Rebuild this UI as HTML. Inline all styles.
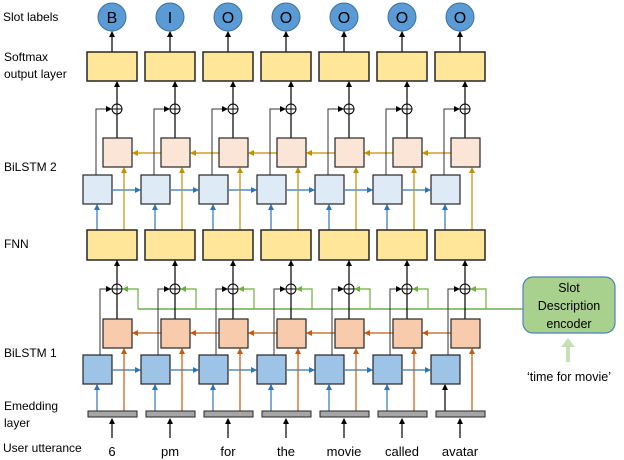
<!DOCTYPE html>
<html><head><meta charset="utf-8"><style>
html,body{margin:0;padding:0;background:#fff;}
svg{display:block;font-family:"Liberation Sans",sans-serif;}
</style></head><body>
<svg id="s" width="624" height="460" viewBox="0 0 624 460" xmlns="http://www.w3.org/2000/svg">
<defs>
<marker id="ak" markerWidth="6" markerHeight="6" refX="5" refY="3" orient="auto" markerUnits="userSpaceOnUse"><path d="M0,0L6,3L0,6z" fill="#000"/></marker>
<marker id="ab" markerWidth="6" markerHeight="6" refX="5" refY="3" orient="auto" markerUnits="userSpaceOnUse"><path d="M0,0L6,3L0,6z" fill="#2e75b6"/></marker>
<marker id="ag" markerWidth="6" markerHeight="6" refX="5" refY="3" orient="auto" markerUnits="userSpaceOnUse"><path d="M0,0L6,3L0,6z" fill="#bf9000"/></marker>
<marker id="ao" markerWidth="6" markerHeight="6" refX="5" refY="3" orient="auto" markerUnits="userSpaceOnUse"><path d="M0,0L6,3L0,6z" fill="#c55a11"/></marker>
<marker id="an" markerWidth="6" markerHeight="6" refX="5" refY="3" orient="auto" markerUnits="userSpaceOnUse"><path d="M0,0L6,3L0,6z" fill="#70ad47"/></marker>
</defs>
<g id="g"></g>
<g font-size="12" fill="#000">
<text x="3" y="21">Slot labels</text>
<text x="4" y="61">Softmax</text>
<text x="4" y="78">output layer</text>
<text x="4" y="171">BiLSTM 2</text>
<text x="4" y="248">FNN</text>
<text x="4" y="357">BiLSTM 1</text>
<text x="4" y="410">Emedding</text>
<text x="4" y="427">layer</text>
<text x="3" y="452">User utterance</text>
</g>
<g font-size="16" text-anchor="middle" fill="#000">
<text x="112" y="23">B</text><text x="170" y="23">I</text><text x="228" y="23">O</text><text x="286" y="23">O</text><text x="344" y="23">O</text><text x="402" y="23">O</text><text x="460" y="23">O</text>
</g>
<g font-size="13" text-anchor="middle" fill="#000">
<text x="112" y="456">6</text><text x="170" y="456">pm</text><text x="228" y="456">for</text><text x="286" y="456">the</text><text x="344" y="456">movie</text><text x="402" y="456">called</text><text x="460" y="456">avatar</text>
</g>
<rect x="523" y="277" width="92" height="56" rx="10" fill="#a9d18e" stroke="#4f81bd" stroke-width="1.2"/>
<g font-size="12.5" text-anchor="middle" fill="#000">
<text x="569" y="292">Slot</text><text x="569" y="310">Description</text><text x="569" y="328">encoder</text>
<text x="569" y="381">‘time for movie’</text>
</g>
<path d="M568,362V346" stroke="#c5e0b4" stroke-width="4"/>
<path d="M561,347L568,338L575,347z" fill="#c5e0b4"/>
</svg>
<script>
var g=document.getElementById('g'),NS='http://www.w3.org/2000/svg';
function el(t,a){var e=document.createElementNS(NS,t);for(var k in a)e.setAttribute(k,a[k]);g.appendChild(e);return e;}
function ln(d,c,m,w){el('path',{d:d,stroke:c,'stroke-width':w||1.2,fill:'none','marker-end':m?'url(#'+m+')':''});}
function plus(cx,cy){el('circle',{cx:cx,cy:cy,r:5,fill:'#fff',stroke:'#000','stroke-width':1});ln('M'+(cx-5)+','+cy+'H'+(cx+5),'#000',null,1);ln('M'+cx+','+(cy-5)+'V'+(cy+5),'#000',null,1);}
ln('M523,309H138','#70ad47',null,1.5);
for(var i=0;i<7;i++){
 var L=87+58*i,c=L+30;
 // top circle
 el('circle',{cx:L+25,cy:17,r:14,fill:'#5b9bd5',stroke:'#41719c','stroke-width':1});
 ln('M'+(L+25)+',52V32','#000','ak');
 el('rect',{x:L,y:52,width:50,height:29,fill:'#ffe699',stroke:'#262626','stroke-width':1.5});
 ln('M'+c+',104V82','#000','ak');
 ln('M'+c+',138V114','#000');
 ln('M'+(L+9)+',175V109H'+(c-6),'#333','ak',1);
 if(i<6){ln('M'+(L+74)+',153H'+(L+46),'#bf9000','ag');ln('M'+(L+26)+',190H'+(L+53),'#2e75b6','ab');}
 ln('M'+(L+10)+',230V205','#2e75b6','ab');
 ln('M'+(L+37)+',230V168','#bf9000','ag');
 el('rect',{x:L+16,y:138,width:29,height:29,fill:'#fbe5d6',stroke:'#262626','stroke-width':1.2});
 el('rect',{x:L-4,y:175,width:29,height:29,fill:'#deebf7',stroke:'#262626','stroke-width':1.2});
 plus(c,109);
 el('rect',{x:L,y:230,width:50,height:30,fill:'#ffe699',stroke:'#262626','stroke-width':1.5});
 ln('M'+c+',284V261','#000','ak');
 ln('M'+c+',319V294','#000');
 ln('M'+(L+13)+',355V289H'+(c-6),'#333','ak',1);
 ln('M'+(L+51)+',309V289H'+(c+6),'#70ad47','an');
 if(i<6){ln('M'+(L+74)+',333H'+(L+46),'#c55a11','ao');ln('M'+(L+26)+',370H'+(L+53),'#2e75b6','ab');}
 ln('M'+(L+10)+',411V385',i==6?'#000':'#2e75b6',i==6?'ak':'ab');
 ln('M'+(L+37)+',411V349','#c55a11','ao');
 el('rect',{x:L+16,y:319,width:29,height:29,fill:'#f8cbad',stroke:'#262626','stroke-width':1.2});
 el('rect',{x:L-4,y:355,width:29,height:29,fill:'#9dc3e6',stroke:'#262626','stroke-width':1.2});
 plus(c,289);
 el('rect',{x:L+1,y:411,width:49,height:6,fill:'#a6a6a6',stroke:'#262626','stroke-width':1});
 ln('M'+(L+25)+',438V419','#000','ak');
}
</script>
</body></html>
